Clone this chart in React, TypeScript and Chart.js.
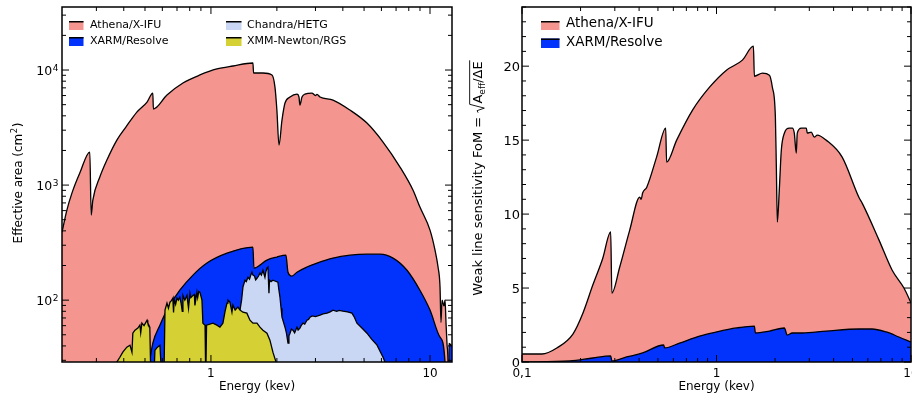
import React, { useEffect, useRef } from 'react';
import { Chart, registerables } from 'chart.js';

Chart.register(...registerables);

const FONT = '"DejaVu Sans", "Liberation Sans", sans-serif';

// ---------- Left panel: effective area (cm^2) vs energy (keV) ----------
const athenaE = [0.209, 0.22, 0.232, 0.252, 0.28, 0.284, 0.289, 0.311, 0.335, 0.372, 0.409, 0.459, 0.511, 0.543, 0.546, 0.63, 0.745, 0.891, 1.065, 1.26, 1.555, 1.565, 1.727, 1.899, 1.96, 2.0, 2.045, 2.11, 2.178, 2.296, 2.47, 2.523, 2.548, 2.604, 2.687, 2.891, 3.0, 3.05, 3.147, 3.607, 4.312, 5.155, 6.103, 7.295, 8.358, 8.995, 10.0, 10.54, 10.88, 11.11, 11.22, 11.35, 11.58, 11.71, 11.83, 11.96, 12.08, 12.15, 12.6];
const athenaA = [390, 606, 851, 1271, 1936, 548, 741, 1175, 1650, 2462, 3191, 4311, 5270, 6310, 4580, 6066, 7709, 9057, 10210, 10840, 11510, 9419, 9419, 9057, 7111, 4487, 2228, 3674, 5164, 5823, 6180, 5823, 4965, 5823, 6180, 6310, 6000, 6150, 5823, 5483, 4487, 3459, 2366, 1435, 906, 644, 406, 272, 194, 130, 64, 100, 89, 100, 64, 41, 29, 10, 10];

const xarmE = [0.5, 0.526, 0.543, 0.585, 0.63, 0.721, 0.828, 0.959, 1.184, 1.555, 1.571, 1.802, 2.0, 2.199, 2.248, 2.343, 2.47, 2.743, 3.049, 3.607, 4.312, 5.155, 5.91, 6.78, 7.85, 8.995, 10.0, 11.11, 11.71, 11.8, 12.18, 12.2, 12.6];
const xarmA = [10, 29, 42.3, 60.6, 81.9, 122, 165, 210, 256, 289, 190, 223, 237, 246, 175, 162, 175, 194, 210, 232, 246, 251, 251, 232, 182, 122, 82, 47.6, 29, 10, 10, 42, 40];

const chandraE = [1.03, 1.099, 1.15, 1.195, 1.25, 1.3, 1.357, 1.38, 1.4, 1.43, 1.45, 1.476, 1.5, 1.52, 1.539, 1.555, 1.58, 1.6, 1.622, 1.65, 1.674, 1.7, 1.727, 1.764, 1.78, 1.802, 1.821, 1.83, 1.84, 1.85, 1.859, 1.88, 1.918, 1.97, 2.022, 2.04, 2.066, 2.09, 2.11, 2.14, 2.178, 2.21, 2.248, 2.27, 2.296, 2.33, 2.368, 2.41, 2.47, 2.5, 2.548, 2.58, 2.63, 2.68, 2.743, 2.79, 2.833, 2.9, 3.0, 3.147, 3.25, 3.388, 3.5, 3.607, 3.75, 3.85, 4.005, 4.2, 4.403, 4.5, 4.64, 4.9, 5.155, 5.4, 5.73, 6.103, 6.23, 6.3];
const chandraA = [20, 54.8, 60, 64.4, 69, 72.6, 81.9, 100, 130, 149, 145, 158, 152, 165, 175, 165, 162, 150, 155, 162, 172, 165, 182, 158, 175, 190, 194, 150, 115, 149, 149, 145, 149, 146, 143, 125, 106, 85, 71, 65, 58.2, 52, 42.3, 49, 51.6, 56, 54.8, 52, 58.2, 55, 57.1, 60, 63.1, 62, 67, 68, 71.1, 73, 72, 74.1, 76, 77.1, 79, 81.9, 80, 81.5, 80.2, 79, 77.1, 72, 63.1, 57, 51.6, 46, 40.6, 31.9, 29, 20];

const xmmE = [0.365, 0.372, 0.384, 0.396, 0.413, 0.427, 0.436, 0.44, 0.45, 0.464, 0.474, 0.478, 0.484, 0.495, 0.511, 0.515, 0.526, 0.532, 0.549, 0.555, 0.57, 0.585, 0.597, 0.61, 0.617, 0.63, 0.64, 0.65, 0.66, 0.67, 0.675, 0.68, 0.69, 0.7, 0.71, 0.721, 0.73, 0.74, 0.745, 0.76, 0.777, 0.79, 0.802, 0.81, 0.828, 0.84, 0.845, 0.863, 0.87, 0.88, 0.891, 0.91, 0.919, 0.94, 0.947, 0.955, 1.021, 1.065, 1.099, 1.134, 1.16, 1.184, 1.196, 1.221, 1.247, 1.26, 1.29, 1.314, 1.328, 1.357, 1.4, 1.459, 1.507, 1.555, 1.622, 1.674, 1.727, 1.802, 1.859, 1.918, 1.982, 2.0];
const xmmA = [20, 29, 31.9, 35.3, 39, 40.6, 35.3, 51.6, 54.8, 57.1, 60.6, 52, 63.1, 60, 67, 63.1, 58.2, 20, 20, 36.7, 39, 40.6, 20, 20, 81.9, 94.2, 85, 96, 99, 104, 78, 102, 92, 104, 100, 106, 95, 80, 110, 100, 110, 85, 115, 105, 110, 112, 90, 117, 105, 119, 117, 100, 63.1, 60.6, 20, 60.6, 63.1, 60.6, 58.2, 63.1, 80, 94.2, 100, 96, 78.6, 90.5, 82, 85.2, 87, 81.9, 78.6, 77.1, 67, 63.1, 63.1, 58.2, 54.8, 51.6, 44.9, 35.3, 29, 20];

// ---------- Right panel: weak line sensitivity FoM vs energy ----------
const athenaFomE = [0.1, 0.1267, 0.151, 0.1827, 0.2056, 0.2312, 0.26, 0.2858, 0.2897, 0.318, 0.358, 0.403, 0.41, 0.417, 0.438, 0.492, 0.548, 0.554, 0.624, 0.753, 0.921, 1.125, 1.359, 1.548, 1.566, 1.722, 1.871, 1.937, 2.008, 2.031, 2.055, 2.103, 2.154, 2.233, 2.368, 2.453, 2.512, 2.571, 2.602, 2.729, 2.896, 2.929, 3.069, 3.184, 3.296, 3.664, 4.427, 5.41, 5.61, 6.85, 7.99, 9.2, 10.0];
const athenaFom = [0.54, 0.54, 0.95, 1.89, 3.3, 5.2, 7.0, 8.8, 4.66, 6.42, 8.92, 11.15, 11.0, 11.42, 11.82, 13.85, 15.81, 13.51, 15.0, 17.03, 18.58, 19.73, 20.41, 21.35, 19.32, 19.53, 19.39, 18.58, 16.55, 13.18, 9.46, 11.62, 14.32, 15.47, 15.81, 15.81, 15.47, 14.12, 15.47, 15.81, 15.81, 15.47, 15.54, 15.2, 15.34, 15.0, 13.85, 11.1, 10.74, 8.24, 6.22, 5.0, 4.0];

const xarmFomE = [0.1, 0.176, 0.2312, 0.2858, 0.2897, 0.345, 0.417, 0.535, 0.541, 0.646, 0.818, 1.0, 1.267, 1.566, 1.585, 1.871, 2.233, 2.311, 2.453, 2.761, 3.664, 5.41, 6.31, 7.45, 8.67, 10.0];
const xarmFom = [0, 0.07, 0.27, 0.41, 0.07, 0.34, 0.61, 1.15, 0.95, 1.28, 1.75, 2.03, 2.3, 2.43, 1.96, 2.09, 2.3, 1.82, 1.96, 1.96, 2.09, 2.23, 2.23, 2.03, 1.69, 1.35];

// ---------- ticks / labels ----------
const leftXTicks = [1, 10];
const leftXTickLabels = ['1', '10'];
const leftYTicks = [100, 1000, 10000];
const leftYTickExps = ['2', '3', '4'];
const rightXTicks = [0.1, 1, 10];
const rightXTickLabels = ['0,1', '1', '10'];
const rightYTicks = [0, 5, 10, 15, 20];
const rightYTickLabels = ['0', '5', '10', '15', '20'];

const COLORS = {
  athena: '#F4968F',
  xarm: '#0233FD',
  chandra: '#C9D7F4',
  xmm: '#D5D033',
};

const pts = (xs: number[], ys: number[]) => xs.map((x, i) => ({ x, y: ys[i] }));

function logMinors(min: number, max: number): number[] {
  const out: number[] = [];
  for (let d = Math.floor(Math.log10(min)); d <= Math.ceil(Math.log10(max)); d++) {
    for (let k = 2; k <= 9; k++) {
      const v = k * Math.pow(10, d);
      if (v > min && v < max) out.push(v);
    }
  }
  return out;
}

function linMinors(min: number, max: number, step: number, skipEvery: number): number[] {
  const out: number[] = [];
  for (let v = min; v <= max; v += step) if (v % skipEvery !== 0) out.push(v);
  return out;
}

function drawFrame(chart: any, xMajor: number[], xMinor: number[], yMajor: number[], yMinor: number[]) {
  const ctx = chart.ctx as CanvasRenderingContext2D;
  const a = chart.chartArea;
  const sx = chart.scales.x;
  const sy = chart.scales.y;
  ctx.save();
  ctx.strokeStyle = '#000';
  ctx.lineWidth = 1;
  ctx.beginPath();
  const xt = (v: number, len: number) => {
    const p = sx.getPixelForValue(v);
    if (p < a.left - 0.5 || p > a.right + 0.5) return;
    ctx.moveTo(p, a.bottom);
    ctx.lineTo(p, a.bottom - len);
    ctx.moveTo(p, a.top);
    ctx.lineTo(p, a.top + len);
  };
  const yt = (v: number, len: number) => {
    const p = sy.getPixelForValue(v);
    if (p < a.top - 0.5 || p > a.bottom + 0.5) return;
    ctx.moveTo(a.left, p);
    ctx.lineTo(a.left + len, p);
    ctx.moveTo(a.right, p);
    ctx.lineTo(a.right - len, p);
  };
  xMajor.forEach((v) => xt(v, 7));
  xMinor.forEach((v) => xt(v, 4));
  yMajor.forEach((v) => yt(v, 7));
  yMinor.forEach((v) => yt(v, 4));
  ctx.stroke();
  ctx.lineWidth = 1.5;
  ctx.strokeRect(a.left, a.top, a.right - a.left, a.bottom - a.top);
  ctx.restore();
}

function legendItem(ctx: CanvasRenderingContext2D, x: number, y: number, w: number, h: number, color: string, label: string, tx: number, ty: number, size: number) {
  ctx.fillStyle = color;
  ctx.fillRect(x, y, w, h);
  ctx.strokeStyle = '#000';
  ctx.lineWidth = 1.5;
  ctx.beginPath();
  ctx.moveTo(x, y + 0.75);
  ctx.lineTo(x + w, y + 0.75);
  ctx.stroke();
  ctx.fillStyle = '#000';
  ctx.font = `${size}px ${FONT}`;
  ctx.textAlign = 'left';
  ctx.textBaseline = 'alphabetic';
  ctx.fillText(label, tx, ty);
}

function xLabels(chart: any, values: number[], labels: string[], size: number, baseline: number) {
  const ctx = chart.ctx as CanvasRenderingContext2D;
  ctx.save();
  ctx.fillStyle = '#000';
  ctx.font = `${size}px ${FONT}`;
  ctx.textAlign = 'center';
  ctx.textBaseline = 'alphabetic';
  values.forEach((v, i) => ctx.fillText(labels[i], chart.scales.x.getPixelForValue(v), baseline));
  ctx.restore();
}

function xTitle(chart: any, text: string, size: number, baseline: number) {
  const ctx = chart.ctx as CanvasRenderingContext2D;
  const a = chart.chartArea;
  ctx.save();
  ctx.fillStyle = '#000';
  ctx.font = `${size}px ${FONT}`;
  ctx.textAlign = 'center';
  ctx.textBaseline = 'alphabetic';
  ctx.fillText(text, (a.left + a.right) / 2, baseline);
  ctx.restore();
}

const leftPlugin = {
  id: 'leftDecor',
  afterDraw(chart: any) {
    const ctx = chart.ctx as CanvasRenderingContext2D;
    drawFrame(chart, leftXTicks, logMinors(0.2, 12.6), leftYTicks, logMinors(29, 35300));
    xLabels(chart, leftXTicks, leftXTickLabels, 12, 377);
    xTitle(chart, 'Energy (kev)', 12, 390);
    ctx.save();
    ctx.fillStyle = '#000';
    ctx.textAlign = 'left';
    ctx.textBaseline = 'alphabetic';
    leftYTicks.forEach((v, i) => {
      const py = chart.scales.y.getPixelForValue(v);
      ctx.font = `12.5px ${FONT}`;
      const wb = ctx.measureText('10').width;
      ctx.font = `9px ${FONT}`;
      const ws = ctx.measureText(leftYTickExps[i]).width;
      const x0 = 58.5 - ws - wb - 0.5;
      ctx.font = `12.5px ${FONT}`;
      ctx.fillText('10', x0, py + 4.5);
      ctx.font = `9px ${FONT}`;
      ctx.fillText(leftYTickExps[i], x0 + wb + 0.5, py + 1);
    });
    const size = 12;
    ctx.translate(22, 183);
    ctx.rotate(-Math.PI / 2);
    ctx.font = `${size}px ${FONT}`;
    const p1 = 'Effective area (cm';
    const w1 = ctx.measureText(p1).width;
    const w3 = ctx.measureText(')').width;
    ctx.font = `8.5px ${FONT}`;
    const w2 = ctx.measureText('2').width;
    let x = -(w1 + w2 + w3 + 1) / 2;
    ctx.font = `${size}px ${FONT}`;
    ctx.fillText(p1, x, 0);
    x += w1 + 0.5;
    ctx.font = `8.5px ${FONT}`;
    ctx.fillText('2', x, -5);
    x += w2 + 0.5;
    ctx.font = `${size}px ${FONT}`;
    ctx.fillText(')', x, 0);
    ctx.restore();
    legendItem(ctx, 69, 21, 14.5, 9, COLORS.athena, 'Athena/X-IFU', 90, 27.5, 11);
    legendItem(ctx, 69, 37, 14.5, 9, COLORS.xarm, 'XARM/Resolve', 90, 43.5, 11);
    legendItem(ctx, 226, 21, 15.5, 9, COLORS.chandra, 'Chandra/HETG', 247, 27.5, 11);
    legendItem(ctx, 226, 37, 15.5, 9, COLORS.xmm, 'XMM-Newton/RGS', 247, 43.5, 11);
  },
};

function drawFomTitle(ctx: CanvasRenderingContext2D, xBase: number, yCenter: number, size: number) {
  const sub = size * 0.7;
  ctx.save();
  ctx.font = `${size}px ${FONT}`;
  const p1 = 'Weak line sensitivity FoM = ';
  const w1 = ctx.measureText(p1).width;
  const wA = ctx.measureText('A').width;
  const wRest = ctx.measureText('/ΔE').width;
  ctx.font = `${sub}px ${FONT}`;
  const wSub = ctx.measureText('eff').width;
  const rad = size * 0.7;
  const total = w1 + rad + wA + wSub + wRest + 1;
  ctx.translate(xBase, yCenter);
  ctx.rotate(-Math.PI / 2);
  let x = -total / 2;
  ctx.fillStyle = '#000';
  ctx.strokeStyle = '#000';
  ctx.textBaseline = 'alphabetic';
  ctx.textAlign = 'left';
  ctx.font = `${size}px ${FONT}`;
  ctx.fillText(p1, x, 0);
  x += w1;
  const top = -size * 0.95;
  ctx.lineWidth = 0.9;
  ctx.beginPath();
  ctx.moveTo(x, -size * 0.3);
  ctx.lineTo(x + rad * 0.22, -size * 0.38);
  ctx.lineTo(x + rad * 0.5, size * 0.18);
  ctx.lineTo(x + rad * 0.92, top);
  ctx.lineTo(x + rad + wA + wSub + wRest + 1, top);
  ctx.stroke();
  x += rad;
  ctx.fillText('A', x, 0);
  x += wA;
  ctx.font = `${sub}px ${FONT}`;
  ctx.fillText('eff', x, size * 0.25);
  x += wSub;
  ctx.font = `${size}px ${FONT}`;
  ctx.fillText('/ΔE', x, 0);
  ctx.restore();
}

const rightPlugin = {
  id: 'rightDecor',
  afterDraw(chart: any) {
    const ctx = chart.ctx as CanvasRenderingContext2D;
    drawFrame(chart, rightXTicks, logMinors(0.1, 10), rightYTicks, linMinors(0, 24, 1, 5));
    xLabels(chart, rightXTicks, rightXTickLabels, 12, 377);
    xTitle(chart, 'Energy (kev)', 12, 390);
    ctx.save();
    ctx.fillStyle = '#000';
    ctx.font = `13px ${FONT}`;
    ctx.textAlign = 'right';
    ctx.textBaseline = 'alphabetic';
    rightYTicks.forEach((v, i) => {
      const py = chart.scales.y.getPixelForValue(v);
      ctx.fillText(rightYTickLabels[i], 60, py + 4.7);
    });
    ctx.restore();
    drawFomTitle(ctx, 22, 178, 13);
    legendItem(ctx, 81, 21, 18.5, 9, COLORS.athena, 'Athena/X-IFU', 106, 26.7, 13.5);
    legendItem(ctx, 81, 38.5, 18.5, 9.5, COLORS.xarm, 'XARM/Resolve', 106, 45.7, 13.5);
  },
};

function ds(data: { x: number; y: number }[], color: string, order: number, smooth: boolean) {
  return {
    data,
    backgroundColor: color,
    borderColor: '#000',
    borderWidth: 1.3,
    pointRadius: 0,
    tension: smooth ? 0.4 : 0,
    cubicInterpolationMode: smooth ? 'monotone' : 'default',
    fill: 'start',
    order,
    clip: 0,
  };
}

function baseOptions(xType: string, xMin: number, xMax: number, yType: string, yMin: number, yMax: number, padRight: number) {
  return {
    animation: false,
    responsive: false,
    maintainAspectRatio: false,
    devicePixelRatio: 1,
    layout: { padding: { top: 7, right: padRight, left: 0, bottom: 0 } },
    plugins: { legend: { display: false }, tooltip: { enabled: false }, title: { display: false } },
    events: [],
    scales: {
      x: {
        type: xType,
        min: xMin,
        max: xMax,
        grid: { display: false },
        border: { display: false },
        ticks: { display: false },
        afterFit: (s: any) => {
          s.height = 34;
          s.paddingLeft = 0;
          s.paddingRight = 0;
        },
      },
      y: {
        type: yType,
        min: yMin,
        max: yMax,
        grid: { display: false },
        border: { display: false },
        ticks: { display: false },
        afterFit: (s: any) => {
          s.width = 62;
          s.paddingTop = 0;
          s.paddingBottom = 0;
        },
      },
    },
  };
}

export default function App() {
  const leftRef = useRef<HTMLCanvasElement>(null);
  const rightRef = useRef<HTMLCanvasElement>(null);

  useEffect(() => {
    document.body.style.margin = '0';
    const c1 = new Chart(leftRef.current as HTMLCanvasElement, {
      type: 'line',
      data: {
        datasets: [
          ds(pts(athenaE, athenaA), COLORS.athena, 4, true),
          ds(pts(xarmE, xarmA), COLORS.xarm, 3, true),
          ds(pts(chandraE, chandraA), COLORS.chandra, 2, false),
          ds(pts(xmmE, xmmA), COLORS.xmm, 1, false),
        ] as any,
      },
      options: baseOptions('logarithmic', 0.209, 12.6, 'logarithmic', 29, 35300, 8) as any,
      plugins: [leftPlugin],
    });
    const c2 = new Chart(rightRef.current as HTMLCanvasElement, {
      type: 'line',
      data: {
        datasets: [
          ds(pts(athenaFomE, athenaFom), COLORS.athena, 2, true),
          ds(pts(xarmFomE, xarmFom), COLORS.xarm, 1, true),
        ] as any,
      },
      options: baseOptions('logarithmic', 0.1, 10, 'linear', 0, 24, 1) as any,
      plugins: [rightPlugin],
    });
    return () => {
      c1.destroy();
      c2.destroy();
    };
  }, []);

  return (
    <div style={{ position: 'fixed', left: 0, top: 0, width: 912, height: 396, background: '#fff' }}>
      <canvas ref={leftRef} width={460} height={396} style={{ position: 'absolute', left: 0, top: 0 }} />
      <canvas ref={rightRef} width={452} height={396} style={{ position: 'absolute', left: 460, top: 0 }} />
    </div>
  );
}
